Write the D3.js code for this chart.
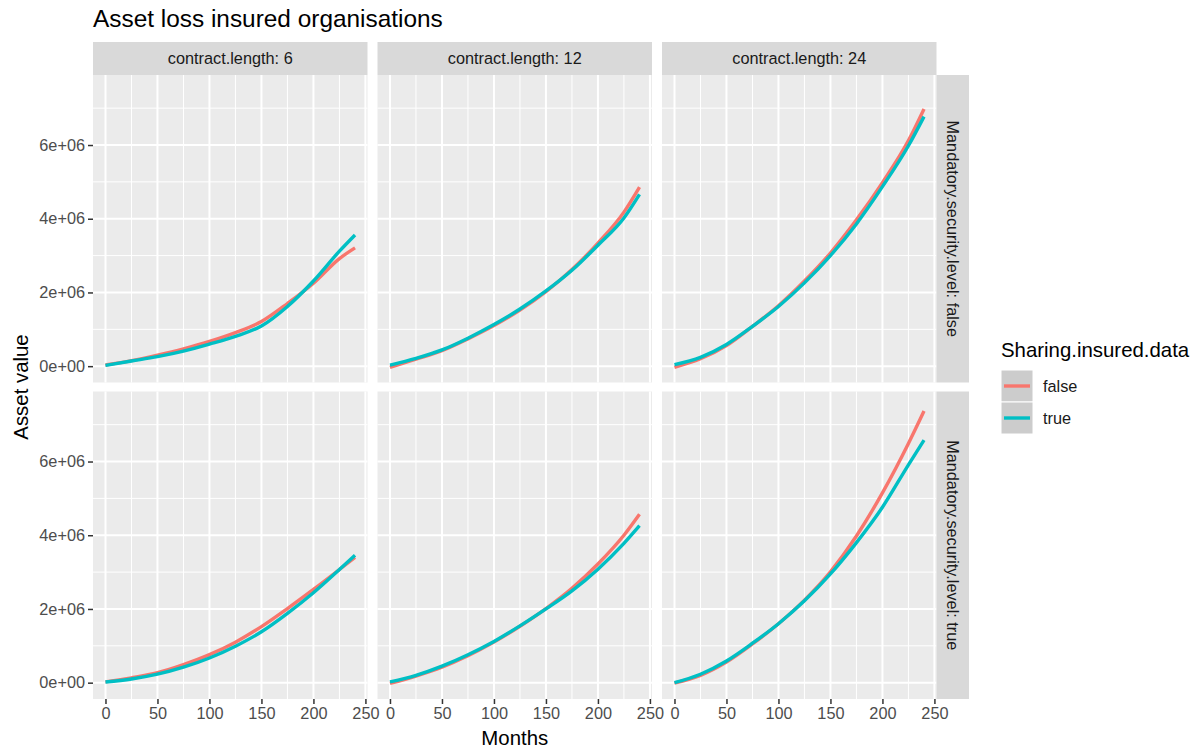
<!DOCTYPE html>
<html lang="en">
<head>
<meta charset="UTF-8">
<script src="https://d3js.org/d3.v7.min.js"></script>
<title>Asset loss insured organisations</title>
<style>
  body { margin: 0; background: #ffffff; }
  svg { font-family: 'Liberation Sans', Arial, sans-serif; }
</style>
</head>
<body>
<div id="wrapper"></div>
<script>
// ---- data ----
const months = [0, 25, 50, 75, 100, 125, 150, 175, 200, 225, 240];
const contractLengths = [6, 12, 24];
const securityLevels = ["false", "true"];
const sharingLevels = ["false", "true"];
const xTicks = [0, 50, 100, 150, 200, 250];
const yTicks = [0, 2e6, 4e6, 6e6];

// security false
const secFalse_c6_shareFalse  = [0.03e6, 0.15e6, 0.30e6, 0.47e6, 0.67e6, 0.91e6, 1.21e6, 1.70e6, 2.25e6, 2.92e6, 3.21e6];
const secFalse_c6_shareTrue   = [0.02e6, 0.14e6, 0.26e6, 0.41e6, 0.60e6, 0.81e6, 1.09e6, 1.62e6, 2.31e6, 3.12e6, 3.56e6];
const secFalse_c12_shareFalse = [-0.03e6, 0.19e6, 0.42e6, 0.74e6, 1.10e6, 1.52e6, 2.02e6, 2.62e6, 3.34e6, 4.18e6, 4.86e6];
const secFalse_c12_shareTrue  = [0.03e6, 0.21e6, 0.44e6, 0.76e6, 1.13e6, 1.55e6, 2.04e6, 2.60e6, 3.28e6, 4.02e6, 4.66e6];
const secFalse_c24_shareFalse = [-0.03e6, 0.20e6, 0.56e6, 1.08e6, 1.64e6, 2.31e6, 3.07e6, 3.97e6, 4.98e6, 6.12e6, 6.98e6];
const secFalse_c24_shareTrue  = [0.04e6, 0.24e6, 0.59e6, 1.08e6, 1.62e6, 2.26e6, 3.00e6, 3.86e6, 4.87e6, 5.98e6, 6.77e6];
// security true
const secTrue_c6_shareFalse   = [0.02e6, 0.13e6, 0.27e6, 0.49e6, 0.76e6, 1.10e6, 1.52e6, 2.01e6, 2.53e6, 3.07e6, 3.40e6];
const secTrue_c6_shareTrue    = [0.02e6, 0.10e6, 0.23e6, 0.42e6, 0.67e6, 0.99e6, 1.38e6, 1.88e6, 2.44e6, 3.07e6, 3.46e6];
const secTrue_c12_shareFalse  = [-0.02e6, 0.18e6, 0.42e6, 0.73e6, 1.10e6, 1.53e6, 2.01e6, 2.56e6, 3.22e6, 4.00e6, 4.57e6];
const secTrue_c12_shareTrue   = [0.02e6, 0.20e6, 0.45e6, 0.76e6, 1.12e6, 1.54e6, 2.00e6, 2.49e6, 3.08e6, 3.78e6, 4.26e6];
const secTrue_c24_shareFalse  = [-0.01e6, 0.20e6, 0.56e6, 1.05e6, 1.60e6, 2.24e6, 3.01e6, 3.98e6, 5.15e6, 6.49e6, 7.37e6];
const secTrue_c24_shareTrue   = [0.00e6, 0.23e6, 0.59e6, 1.07e6, 1.60e6, 2.22e6, 2.95e6, 3.80e6, 4.76e6, 5.91e6, 6.58e6];

const seriesTable = {
  "false": {
    6:  {"false": secFalse_c6_shareFalse,  "true": secFalse_c6_shareTrue},
    12: {"false": secFalse_c12_shareFalse, "true": secFalse_c12_shareTrue},
    24: {"false": secFalse_c24_shareFalse, "true": secFalse_c24_shareTrue}
  },
  "true": {
    6:  {"false": secTrue_c6_shareFalse,  "true": secTrue_c6_shareTrue},
    12: {"false": secTrue_c12_shareFalse, "true": secTrue_c12_shareTrue},
    24: {"false": secTrue_c24_shareFalse, "true": secTrue_c24_shareTrue}
  }
};

const colors = {"false": "#F8766D", "true": "#00BFC4"};

// ---- layout ----
const width = 1200, height = 749;
const dims = {
  left: 93, panelW: 274.5, gapX: 10,
  stripTop: 42, stripH: 33,
  panelH: 307.5, gapY: 9,
  rightStripW: 32.5
};
dims.top = dims.stripTop + dims.stripH;

const svg = d3.select("#wrapper").append("svg")
  .attr("width", width)
  .attr("height", height);

const xScale = d3.scaleLinear().domain([-12, 252]).range([0, dims.panelW]);
const yScale = d3.scaleLinear().domain([-0.443e6, 7.9e6]).range([dims.panelH, 0]);

const xMinor = [25, 75, 125, 175, 225];
const yMinor = [1e6, 3e6, 5e6, 7e6];

const fmtY = d => d === 0 ? "0e+00" : (d / 1e6) + "e+06";

const line = d3.line()
  .x(d => xScale(d[0]))
  .y(d => yScale(d[1]))
  .curve(d3.curveMonotoneX);

// title
svg.append("text")
  .attr("x", dims.left)
  .attr("y", 27)
  .attr("fill", "#000")
  .style("font-size", "24.4px")
  .text("Asset loss insured organisations");

securityLevels.forEach((sec, r) => {
  const py = dims.top + r * (dims.panelH + dims.gapY);
  contractLengths.forEach((cl, c) => {
    const px = dims.left + c * (dims.panelW + dims.gapX);
    const g = svg.append("g").attr("transform", `translate(${px},${py})`);

    g.append("rect")
      .attr("width", dims.panelW).attr("height", dims.panelH)
      .attr("fill", "#EBEBEB");

    // minor grid
    g.selectAll(".xminor").data(xMinor).join("line")
      .attr("x1", d => xScale(d)).attr("x2", d => xScale(d))
      .attr("y1", 0).attr("y2", dims.panelH)
      .attr("stroke", "#fff").attr("stroke-width", 1);
    g.selectAll(".yminor").data(yMinor).join("line")
      .attr("y1", d => yScale(d)).attr("y2", d => yScale(d))
      .attr("x1", 0).attr("x2", dims.panelW)
      .attr("stroke", "#fff").attr("stroke-width", 1);
    // major grid
    g.selectAll(".xmajor").data(xTicks).join("line")
      .attr("x1", d => xScale(d)).attr("x2", d => xScale(d))
      .attr("y1", 0).attr("y2", dims.panelH)
      .attr("stroke", "#fff").attr("stroke-width", 2);
    g.selectAll(".ymajor").data(yTicks).join("line")
      .attr("y1", d => yScale(d)).attr("y2", d => yScale(d))
      .attr("x1", 0).attr("x2", dims.panelW)
      .attr("stroke", "#fff").attr("stroke-width", 2);

    // lines
    sharingLevels.forEach(sh => {
      const vals = seriesTable[sec][cl][sh];
      g.append("path")
        .datum(months.map((m, i) => [m, vals[i]]))
        .attr("d", line)
        .attr("fill", "none")
        .attr("stroke", colors[sh])
        .attr("stroke-width", 3.4);
    });

    // top strip
    if (r === 0) {
      const s = svg.append("g").attr("transform", `translate(${px},${dims.stripTop})`);
      s.append("rect").attr("width", dims.panelW).attr("height", dims.stripH).attr("fill", "#D9D9D9");
      s.append("text")
        .attr("x", dims.panelW / 2).attr("y", dims.stripH / 2)
        .attr("dy", "0.35em")
        .attr("text-anchor", "middle")
        .attr("fill", "#1A1A1A")
        .style("font-size", "16.3px")
        .text("contract.length: " + cl);
    }

    // x axis on bottom row
    if (r === securityLevels.length - 1) {
      const xAxis = g.append("g")
        .attr("transform", `translate(0,${dims.panelH})`)
        .call(d3.axisBottom(xScale).tickValues(xTicks).tickSize(5).tickPadding(3));
      xAxis.select(".domain").remove();
      xAxis.selectAll(".tick line").attr("stroke", "#333").attr("stroke-width", 1.5);
      xAxis.selectAll(".tick text").attr("fill", "#4D4D4D")
        .style("font-size", "16.3px").style("font-family", "'Liberation Sans', Arial, sans-serif");
    }

    // y axis on left column
    if (c === 0) {
      const yAxis = g.append("g")
        .call(d3.axisLeft(yScale).tickValues(yTicks).tickFormat(fmtY).tickSize(5).tickPadding(3));
      yAxis.select(".domain").remove();
      yAxis.selectAll(".tick line").attr("stroke", "#333").attr("stroke-width", 1.5);
      yAxis.selectAll(".tick text").attr("fill", "#4D4D4D")
        .style("font-size", "16.3px").style("font-family", "'Liberation Sans', Arial, sans-serif");
    }
  });

  // right strip
  const rx = dims.left + 3 * dims.panelW + 2 * dims.gapX;
  const rs = svg.append("g").attr("transform", `translate(${rx},${py})`);
  rs.append("rect").attr("width", dims.rightStripW).attr("height", dims.panelH).attr("fill", "#D9D9D9");
  rs.append("text")
    .attr("transform", `translate(${dims.rightStripW / 2},${dims.panelH / 2}) rotate(90)`)
    .attr("dy", "0.35em")
    .attr("text-anchor", "middle")
    .attr("fill", "#1A1A1A")
    .style("font-size", "16.3px")
    .text("Mandatory.security.level: " + sec);
});

// axis titles
const panelsRight = dims.left + 3 * dims.panelW + 2 * dims.gapX;
const panelsBottom = dims.top + 2 * dims.panelH + dims.gapY;
svg.append("text")
  .attr("x", (dims.left + panelsRight) / 2)
  .attr("y", 745)
  .attr("text-anchor", "middle")
  .attr("fill", "#000")
  .style("font-size", "20.4px")
  .text("Months");
svg.append("text")
  .attr("transform", `translate(28,${(dims.top + panelsBottom) / 2}) rotate(-90)`)
  .attr("text-anchor", "middle")
  .attr("fill", "#000")
  .style("font-size", "20.4px")
  .text("Asset value");

// legend
const legend = svg.append("g").attr("transform", "translate(1001,337)");
legend.append("text")
  .attr("x", 0).attr("y", 20)
  .attr("fill", "#000")
  .style("font-size", "20.4px")
  .text("Sharing.insured.data");
sharingLevels.forEach((sh, i) => {
  const ky = 33 + i * 32;
  legend.append("rect")
    .attr("x", 0).attr("y", ky)
    .attr("width", 32).attr("height", 32)
    .attr("fill", "#CCCCCC").attr("stroke", "#fff").attr("stroke-width", 1);
  legend.append("line")
    .attr("x1", 3).attr("x2", 29)
    .attr("y1", ky + 16).attr("y2", ky + 16)
    .attr("stroke", colors[sh]).attr("stroke-width", 3.4);
  legend.append("text")
    .attr("x", 42).attr("y", ky + 16)
    .attr("dy", "0.35em")
    .attr("fill", "#1A1A1A")
    .style("font-size", "16.3px")
    .text(sh);
});
</script>
</body>
</html>
